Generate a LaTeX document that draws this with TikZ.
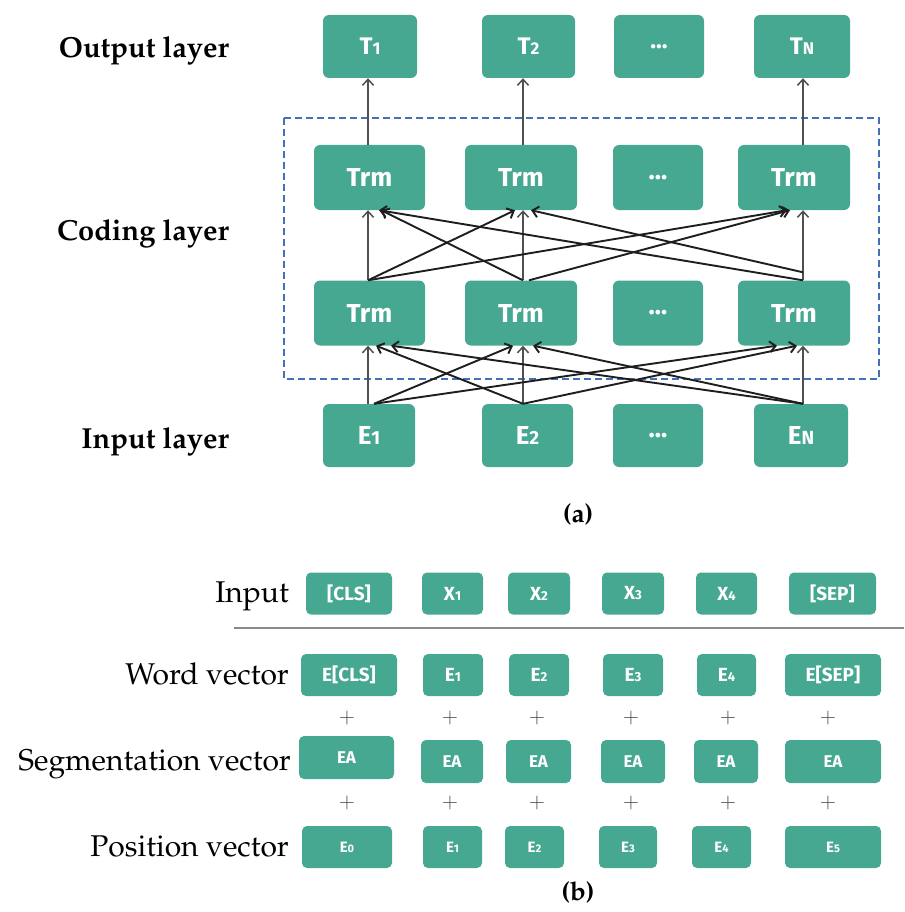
\documentclass[tikz,border=0pt]{standalone}
\usepackage[T1]{fontenc}
\usepackage{fontspec}
\newfontfamily\boxfont{Fira Sans}
\newcommand{\palfont}{\fontencoding{T1}\fontfamily{ppl}\selectfont}
\newcommand{\subA}[1]{{\fontsize{17}{17}\selectfont #1}}
\newcommand{\subB}[1]{{\fontsize{19}{19}\selectfont #1}}
\newcommand{\subC}[1]{{\fontsize{13}{13}\selectfont #1}}
\newcommand{\subD}[1]{{\fontsize{11}{11}\selectfont #1}}
\usetikzlibrary{arrows.meta}
\definecolor{boxteal}{HTML}{47A892}
\definecolor{dashblue}{HTML}{4470B8}
\definecolor{vgray}{HTML}{505050}
\definecolor{dblack}{HTML}{1E1E1E}
\definecolor{sepgray}{HTML}{8A8A8A}
\definecolor{plusgray}{HTML}{444444}
\tikzset{
  gbox/.style={fill=boxteal, rounded corners=6pt, inner sep=0pt, text=white},
  trow/.style={gbox, minimum height=63pt, font=\boxfont\bfseries\fontsize{24}{24}\selectfont},
  trmrow/.style={gbox, minimum height=65pt, font=\boxfont\bfseries\fontsize{26}{26}\selectfont},
  erow/.style={gbox, minimum height=63pt, font=\boxfont\bfseries\fontsize{26}{26}\selectfont},
  bbox/.style={gbox, rounded corners=5pt, minimum height=42pt, font=\boxfont\bfseries\fontsize{19}{19}\selectfont},
  sbox/.style={gbox, rounded corners=5pt, minimum height=43pt, font=\boxfont\bfseries\fontsize{17}{17}\selectfont},
  pbox/.style={gbox, rounded corners=5pt, minimum height=42pt, font=\boxfont\bfseries\fontsize{15}{15}\selectfont},
  varrow/.style={draw=vgray, line width=1.5pt, -{Straight Barb[length=6pt,width=11pt]}},
  darrow/.style={draw=dblack, line width=1.9pt, -{Straight Barb[length=6pt,width=11pt]}},
  alab/.style={anchor=base east, inner sep=0pt, font=\palfont\bfseries\fontsize{29}{29}\selectfont},
  blab/.style={anchor=base east, inner sep=0pt, font=\palfont\fontsize{30}{30}\selectfont},
  caption/.style={anchor=base, inner sep=0pt, font=\palfont\bfseries\fontsize{26}{26}\selectfont},
  plus/.style={inner sep=0pt, text=plusgray, font=\fontsize{22}{22}\selectfont},
  dashframe/.style={draw=dashblue, line width=2.4pt, dash pattern=on 7pt off 4pt},
  sepline/.style={draw=sepgray, line width=2pt}
}
\begin{document}
\begin{tikzpicture}[x=1pt,y=-1pt]
\fill[white] (0,0) rectangle (904,912);
\useasboundingbox (0,0) rectangle (904,912);

% ---------- part (a) ----------
\node[alab] (lout) at (229,58) {Output layer};
\node[alab] (lcod) at (229,240) {Coding layer};
\node[alab] (linp) at (229,448) {Input layer};

\node[trow, minimum width=94pt] (t1) at (370,46.5) {T\subA{1}};
\node[trow, minimum width=93pt] (t2) at (528.5,46.5) {T\subA{2}};
\node[trow, minimum width=90pt] (td) at (659,46.5) {...};
\node[trow, minimum width=96pt] (tn) at (802,46.5) {T\subA{N}};

\node[trmrow, minimum width=111pt] (tu1) at (369.5,177.5) {Trm};
\node[trmrow, minimum width=112pt] (tu2) at (521,177.5) {Trm};
\node[trmrow, minimum width=90pt] (tu3) at (658,177.5) {...};
\node[trmrow, minimum width=112pt] (tu4) at (794,177.5) {Trm};

\node[trmrow, minimum width=111pt] (tl1) at (369.5,313) {Trm};
\node[trmrow, minimum width=112pt] (tl2) at (521,313) {Trm};
\node[trmrow, minimum width=90pt] (tl3) at (658,313) {...};
\node[trmrow, minimum width=112pt] (tl4) at (794,313) {Trm};

\node[erow, minimum width=92pt] (e1) at (369,435.5) {E\subB{1}};
\node[erow, minimum width=91pt] (e2) at (527.5,435.5) {E\subB{2}};
\node[erow, minimum width=90pt] (e3) at (658,435.5) {...};
\node[erow, minimum width=94pt] (en) at (801,435.5) {E\subB{N}};

\draw[dashframe] (284,118) rectangle (879,379);

\coordinate (xa) at (368,0);
\coordinate (xb) at (523,0);
\coordinate (xc) at (803,0);

% vertical arrows
\draw[varrow] (tu1.north -| xa) -- (t1.south -| xa);
\draw[varrow] (tu2.north -| xb) -- (t2.south -| xb);
\draw[varrow] (tu4.north -| xc) -- (tn.south -| xc);
\draw[varrow] (tl1.north -| xa) -- (tu1.south -| xa);
\draw[varrow] (tl2.north -| xb) -- (tu2.south -| xb);
\draw[varrow] (tl4.north -| xc) -- (tu4.south -| xc);
\draw[varrow] (e1.north -| xa) -- (tl1.south -| xa);
\draw[varrow] (e2.north -| xb) -- (tl2.south -| xb);
\draw[varrow] (en.north -| xc) -- (tl4.south -| xc);

% diagonal arrows, lower Trm -> upper Trm
\draw[darrow] ([xshift=-1.5pt]tl1.north) -- ([xshift=-6pt]tu2.south);
\draw[darrow] ([xshift=-1.5pt]tl1.north) -- ([xshift=-7pt]tu4.south);
\draw[darrow] ([xshift=2pt]tl2.north) -- ([xshift=11.5pt]tu1.south);
\draw[darrow] ([xshift=8pt]tl2.north) -- ([xshift=-4pt]tu4.south);
\draw[darrow] ([xshift=9pt]tl4.north) -- ([xshift=9.5pt]tu1.south);
\draw[darrow] ([xshift=9pt,yshift=8pt]tl4.north) -- ([xshift=10pt]tu2.south);

% diagonal arrows, E -> lower Trm
\draw[darrow] ([xshift=5pt]e1.north) -- ([xshift=-8pt]tl2.south);
\draw[darrow] ([xshift=5pt]e1.north) -- ([xshift=-17pt]tl4.south);
\draw[darrow] ([xshift=-4.5pt]e2.north) -- ([xshift=6.5pt]tl1.south);
\draw[darrow] ([xshift=-4.5pt]e2.north) -- ([xshift=3pt]tl4.south);
\draw[darrow] ([xshift=2pt]en.north) -- ([xshift=21.5pt]tl1.south);
\draw[darrow] ([xshift=2pt]en.north) -- ([xshift=12pt]tl2.south);

\node[caption] (capa) at (578,522) {(a)};

% ---------- part (b) ----------
\node[blab] (binp) at (289,602) {Input};
\node[blab] (bword) at (289,684) {Word vector};
\node[blab] (bseg) at (291,770) {Segmentation vector};
\node[blab] (bpos) at (289,856) {Position vector};

\node[bbox, minimum width=86pt] (i0) at (349,593.5) {[CLS]};
\node[bbox, minimum width=61pt] (i1) at (452.5,593.5) {X\subC{1}};
\node[bbox, minimum width=62pt] (i2) at (539,593.5) {X\subC{2}};
\node[bbox, minimum width=62pt] (i3) at (633,593.5) {X\subC{3}};
\node[bbox, minimum width=61pt] (i4) at (726.5,593.5) {X\subC{4}};
\node[bbox, minimum width=87pt] (i5) at (832.5,593.5) {[SEP]};

\coordinate (sepL) at (234,628);
\coordinate (sepR) at (904,628);
\draw[sepline] (sepL) -- (sepR);

\node[bbox, minimum width=96pt] (w0) at (349,675) {E[CLS]};
\node[bbox, minimum width=60pt] (w1) at (453,675) {E\subC{1}};
\node[bbox, minimum width=60pt] (w2) at (539,675) {E\subC{2}};
\node[bbox, minimum width=60pt] (w3) at (633,675) {E\subC{3}};
\node[bbox, minimum width=59pt] (w4) at (726.5,675) {E\subC{4}};
\node[bbox, minimum width=96pt] (w5) at (833,675) {E[SEP]};

\node[plus] (pa0) at (347,718) {+};
\node[plus] (pa1) at (450,718) {+};
\node[plus] (pa2) at (537,718) {+};
\node[plus] (pa3) at (631,718) {+};
\node[plus] (pa4) at (728,718) {+};
\node[plus] (pa5) at (828,718) {+};

\node[sbox, minimum width=95pt] (s0) at (346.5,757.5) {EA};
\node[sbox, minimum width=62pt] (s1) at (452,761.5) {EA};
\node[sbox, minimum width=65pt] (s2) at (538.5,761.5) {EA};
\node[sbox, minimum width=64pt] (s3) at (633,761.5) {EA};
\node[sbox, minimum width=64pt] (s4) at (726,761.5) {EA};
\node[sbox, minimum width=96pt] (s5) at (833,761.5) {EA};

\node[plus] (pb0) at (347,803) {+};
\node[plus] (pb1) at (450,803) {+};
\node[plus] (pb2) at (537,803) {+};
\node[plus] (pb3) at (631,803) {+};
\node[plus] (pb4) at (728,803) {+};
\node[plus] (pb5) at (828,803) {+};

\node[pbox, minimum width=90pt] (q0) at (347,847) {E\subD{0}};
\node[pbox, minimum width=59pt] (q1) at (452.5,847) {E\subD{1}};
\node[pbox, minimum width=59pt] (q2) at (534.5,847) {E\subD{2}};
\node[pbox, minimum width=58pt] (q3) at (628,847) {E\subD{3}};
\node[pbox, minimum width=59pt] (q4) at (721.5,847) {E\subD{4}};
\node[pbox, minimum width=96pt] (q5) at (833,847) {E\subD{5}};

\node[caption] (capb) at (578,900) {(b)};
\end{tikzpicture}
\end{document}
